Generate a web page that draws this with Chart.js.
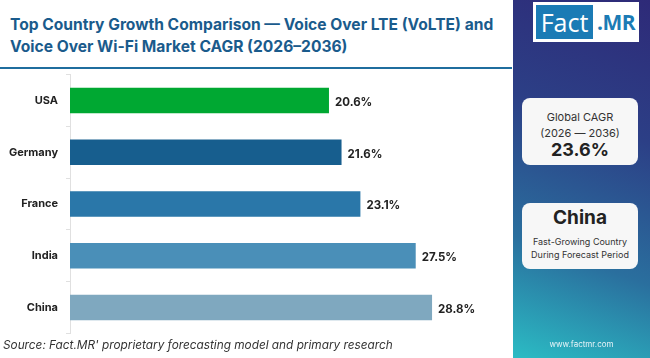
<!DOCTYPE html>
<html><head><meta charset="utf-8">
<script src="https://cdn.jsdelivr.net/npm/chart.js@4"></script>
<style>
html,body{margin:0;padding:0;width:650px;height:358px;overflow:hidden;background:#fff;font-family:Inter,"Open Sans",sans-serif;}
#main{position:absolute;left:0;top:0;width:513px;height:358px;background:#fff;}
#title{position:absolute;left:10px;top:14px;font-size:15.6px;font-weight:700;color:#1a5b8c;line-height:22px;white-space:nowrap;}
#rule{position:absolute;left:0;top:67px;width:512px;height:2px;background:#1f6d9e;}
#cwrap{position:absolute;left:0;top:70px;width:512px;height:266px;}
#source{position:absolute;left:3px;top:338px;font-size:11.8px;font-style:italic;color:#333;white-space:nowrap;}
#side{position:absolute;left:513px;top:0;width:137px;height:358px;background:linear-gradient(200deg,#2e2a78 0%,#2c3f86 35%,#2a6f9e 70%,#2bbcc4 100%);}
#logo{position:absolute;left:20px;top:2px;width:106px;height:40px;background:#fff;}
#logo .f{position:absolute;left:3px;top:3px;width:57px;height:34px;background:#1b7bb5;color:#fff;font-size:25px;line-height:34px;text-align:center;font-family:"Open Sans",sans-serif;}
#logo .m{position:absolute;left:60px;top:3px;width:46px;height:34px;color:#1b7bb5;font-size:21px;font-weight:700;line-height:34px;text-align:center;font-family:"Open Sans",sans-serif;letter-spacing:-0.5px;}
.card{position:absolute;left:9px;width:116px;background:#f7f7f7;border-radius:8px;text-align:center;color:#222;}
#c1{top:98px;height:67px;}
#c2{top:203px;height:66px;}
#www{position:absolute;left:0;width:137px;top:339px;text-align:center;color:#e8f4f8;font-size:8px;}
</style></head><body>
<div id="main">
<div id="title">Top Country Growth Comparison — Voice Over LTE (VoLTE) and<br>Voice Over Wi-Fi Market CAGR (2026–2036)</div>
<div id="rule"></div>
<div id="cwrap"><canvas id="c" width="512" height="266"></canvas></div>
<div id="source">Source: Fact.MR' proprietary forecasting model and primary research</div>
</div>
<div id="side">
<div id="logo"><div class="f">Fact</div><div class="m">.MR</div></div>
<div class="card" id="c1">
<div style="position:absolute;top:12px;width:100%;font-size:11px;color:#333;">Global CAGR</div>
<div style="position:absolute;top:28px;width:100%;font-size:11px;color:#333;">(2026 — 2036)</div>
<div style="position:absolute;top:41px;width:100%;font-size:18px;font-weight:700;">23.6%</div>
</div>
<div class="card" id="c2">
<div style="position:absolute;top:3px;width:100%;font-size:19px;font-weight:700;">China</div>
<div style="position:absolute;top:33px;width:100%;font-size:9px;color:#333;">Fast-Growing Country</div>
<div style="position:absolute;top:46px;width:100%;font-size:9px;color:#333;">During Forecast Period</div>
</div>
<div id="www">www.factmr.com</div>
</div>
<script>
const categories = ["USA","Germany","France","India","China"];
const cagrValues = [20.6,21.6,23.1,27.5,28.8];
const barColors = ["#00a832","#175e8e","#2a77a9","#4a8fb8","#7fa8bf"];

const valueLabels = {
  id:'valueLabels',
  afterDatasetsDraw(chart){
    const ctx = chart.ctx;
    const meta = chart.getDatasetMeta(0);
    ctx.save();
    ctx.font = 'bold 11.5px Inter, sans-serif';
    ctx.fillStyle = '#222';
    ctx.textAlign = 'left';
    ctx.textBaseline = 'middle';
    meta.data.forEach((bar,i)=>{
      ctx.fillText(cagrValues[i].toFixed(1)+'%', bar.x+6, bar.y+2);
    });
    ctx.restore();
  }
};

const chart = new Chart(document.getElementById('c'),{
  type:'bar',
  data:{labels:categories,datasets:[{data:cagrValues,backgroundColor:barColors,borderWidth:0,barPercentage:0.49,categoryPercentage:1}]},
  options:{
    indexAxis:'y',
    responsive:false,
    maintainAspectRatio:false,
    animation:false,
    layout:{padding:{top:0,right:2,bottom:0,left:0}},
    plugins:{legend:{display:false},tooltip:{enabled:false}},
    scales:{
      x:{display:false,min:0,max:35},
      y:{
        afterFit(s){s.width=70;},
        border:{display:true,color:'#e0e0e0',width:1},
        grid:{display:true,drawOnChartArea:false,drawTicks:true,tickLength:4,color:'#e0e0e0',offset:true},
        ticks:{color:'#222',padding:8,font:{family:'Inter, sans-serif',size:11,weight:'bold'}}
      }
    }
  },
  plugins:[valueLabels]
});

// fit the plot area to the page band 75..334
(function(){
  const wantTop = 75, wantBottom = 334;
  const H = chart.height, ca = chart.chartArea;
  const above = ca.top, below = H - ca.bottom;
  const newH = Math.round((wantBottom - wantTop) + above + below);
  const wrap = document.getElementById('cwrap');
  wrap.style.top = (wantTop - above) + 'px';
  wrap.style.height = newH + 'px';
  chart.resize(512, newH);
})();
</script>
</body></html>
